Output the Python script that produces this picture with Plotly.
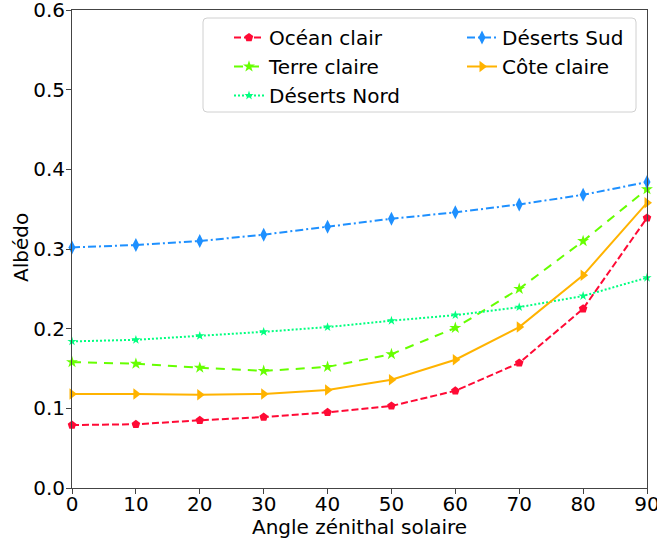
import plotly.graph_objects as go

angles = [0, 10, 20, 30, 40, 50, 60, 70, 80, 90]
ocean_clair = [0.079, 0.080, 0.085, 0.089, 0.095, 0.103, 0.122, 0.157, 0.225, 0.339]
terre_claire = [0.158, 0.156, 0.151, 0.147, 0.152, 0.168, 0.201, 0.250, 0.310, 0.375]
deserts_nord = [0.184, 0.186, 0.191, 0.196, 0.202, 0.210, 0.217, 0.227, 0.241, 0.264]
deserts_sud = [0.302, 0.305, 0.310, 0.318, 0.328, 0.338, 0.346, 0.356, 0.368, 0.384]
cote_claire = [0.118, 0.118, 0.117, 0.118, 0.123, 0.136, 0.161, 0.202, 0.267, 0.358]
y_ticks = [0, 0.1, 0.2, 0.3, 0.4, 0.5, 0.6]
x_title = "Angle zénithal solaire"
y_title = "Albédo"

series = [
    ("Océan clair", ocean_clair, "#ff0a35", "7px,3px", "pentagon", 9, "legend"),
    ("Terre claire", terre_claire, "#66ff00", "9px,7px", "star", 9, "legend"),
    ("Déserts Nord", deserts_nord, "#00ff7f", "2px,2px", "star", 7, "legend"),
    ("Déserts Sud", deserts_sud, "#1e90ff", "8px,3px,2px,3px", "diamond-tall", 10, "legend2"),
    ("Côte claire", cote_claire, "#ffb300", "solid", "triangle-right", 10, "legend2"),
]

fig = go.Figure()
for name, vals, col, dash, sym, size, leg in series:
    fig.add_trace(go.Scatter(
        x=angles, y=vals, name=name, mode="lines+markers",
        line=dict(color=col, dash=dash, width=2),
        marker=dict(symbol=sym, size=size, color=col, line=dict(width=0)),
        legend=leg, cliponaxis=False,
    ))

# plot area in page pixels
L, R, T, B = 72, 647, 10, 488
def px_x(p):
    return (p - L) / (R - L)
def px_y(p):
    return (B - p) / (B - T)

# legend frame (one box around both legend columns)
bx0, bx1, by0, by1 = px_x(203), px_x(636), px_y(112), px_y(18)
rx, ry = 4 / (R - L), 4 / (B - T)
path = (f"M {bx0+rx},{by0} L {bx1-rx},{by0} Q {bx1},{by0} {bx1},{by0+ry} "
        f"L {bx1},{by1-ry} Q {bx1},{by1} {bx1-rx},{by1} L {bx0+rx},{by1} "
        f"Q {bx0},{by1} {bx0},{by1-ry} L {bx0},{by0+ry} Q {bx0},{by0} {bx0+rx},{by0} Z")
fig.add_shape(type="path", path=path, xref="paper", yref="paper",
              line=dict(color="#d0d0d0", width=1),
              fillcolor="rgba(255,255,255,0.8)", layer="above")

# axis titles
fig.add_annotation(text=x_title, xref="paper", yref="paper",
                   x=0.5, y=px_y(527), xanchor="center", yanchor="middle",
                   showarrow=False, font=dict(size=20), borderpad=0)
fig.add_annotation(text=y_title, xref="paper", yref="paper",
                   x=px_x(21), y=px_y(248), xanchor="center", yanchor="middle",
                   textangle=-90, showarrow=False, font=dict(size=20))

fig.update_layout(
    width=657, height=542,
    margin=dict(l=L, r=657 - R, t=T, b=542 - B),
    plot_bgcolor="white", paper_bgcolor="white",
    font=dict(family="DejaVu Sans", size=20, color="black"),
    legend=dict(
        x=px_x(229), y=px_y(18), xanchor="left", yanchor="top",
        bgcolor="rgba(0,0,0,0)", borderwidth=0, font=dict(size=20),
    ),
    legend2=dict(
        x=px_x(462), y=px_y(18), xanchor="left", yanchor="top",
        bgcolor="rgba(0,0,0,0)", borderwidth=0, font=dict(size=20),
    ),
    showlegend=True,
)
fig.update_xaxes(
    range=[0, 90], tickvals=angles, ticktext=[str(a) for a in angles],
    showgrid=False, zeroline=False, showline=True, mirror=True,
    linecolor="#444444", linewidth=1, ticks="outside", ticklen=5,
    tickcolor="#444444", automargin=False, ticklabeloverflow="allow",
    ticklabelstandoff=-7,
)
fig.update_yaxes(
    range=[0, 0.6], tickvals=y_ticks, tickformat=".1f",
    showgrid=False, zeroline=False, showline=True, mirror=True,
    linecolor="#444444", linewidth=1, ticks="outside", ticklen=5,
    tickcolor="#444444", automargin=False, ticklabeloverflow="allow",
    ticklabelstandoff=-3,
)
fig.write_html("out.html", config={"displayModeBar": False},
               post_script="document.body.style.margin='0';")
